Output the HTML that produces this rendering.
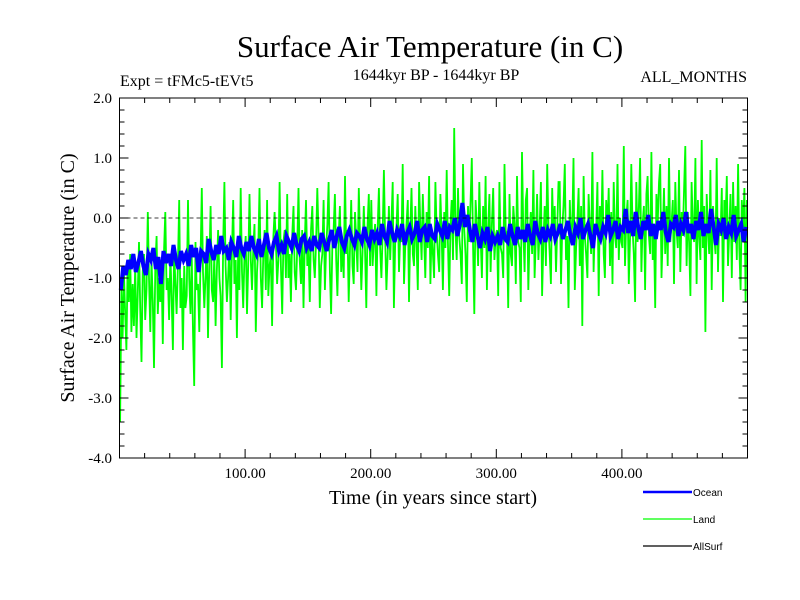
<!DOCTYPE html>
<html><head><meta charset="utf-8"><style>
body{margin:0;background:#fff;}
svg{display:block;font-family:"Liberation Serif",serif;}
</style></head><body>
<svg id="chart" width="800" height="600">
<rect width="800" height="600" fill="#fff"/>
<text x="430" y="57" font-size="31" text-anchor="middle">Surface Air Temperature (in C)</text>
<text x="120" y="86" font-size="16">Expt = tFMc5-tEVt5</text>
<text x="436" y="80" font-size="16" text-anchor="middle">1644kyr BP - 1644kyr BP</text>
<text x="747" y="82" font-size="16" text-anchor="end">ALL_MONTHS</text>
<g id="plot"></g>
<text transform="translate(74,278) rotate(-90)" font-size="20" text-anchor="middle">Surface Air Temperature (in C)</text>
<text x="433" y="504" font-size="20" text-anchor="middle">Time (in years since start)</text>
<g font-family="Liberation Sans, sans-serif" font-size="10">
<line x1="643" y1="492" x2="692" y2="492" stroke="#0000ff" stroke-width="2.5"/>
<text x="693" y="496">Ocean</text>
<line x1="643" y1="519" x2="692" y2="519" stroke="#00ff00" stroke-width="1.2"/>
<text x="693" y="523">Land</text>
<line x1="643" y1="546" x2="692" y2="546" stroke="#000" stroke-width="1.2"/>
<text x="693" y="550">AllSurf</text>
</g>
</svg>
<script>
const landStep = 1;
const oceanStep = 2;
const yTicks = [2.0, 1.0, 0.0, -1.0, -2.0, -3.0, -4.0];
const yTickLabels = ["2.0","1.0","0.0","-1.0","-2.0","-3.0","-4.0"];
const xTicks = [100, 200, 300, 400];
const xTickLabels = ["100.00","200.00","300.00","400.00"];
const land = [
-3.4,-1.2,-2.0,-0.9,-1.6,-2.2,-0.7,-1.4,-0.6,-1.9,-1.1,-1.8,-0.8,-2.0,-1.3,-0.4,-1.5,-2.4,-0.9,-0.6,-1.7,-1.2,0.1,-1.0,-1.9,-0.7,-1.4,-2.5,-0.8,-0.3,-1.6,-1.0,-1.4,-0.9,-2.1,-0.5,0.1,-1.2,-1.0,-1.7,-0.6,-1.3,-2.2,-0.5,-1.1,-1.6,-0.8,0.3,-1.5,-1.0,
-2.2,-0.8,-1.5,-1.3,0.3,-1.0,-1.6,-0.6,-1.9,-2.8,-0.4,-1.2,-1.1,-1.9,-0.7,0.5,-0.9,-1.5,-1.0,-0.3,-2.0,-0.8,0.2,-1.2,-1.4,-0.6,-1.8,-0.9,-0.2,-1.0,-1.3,-2.5,-0.5,0.6,-0.8,-1.4,-1.0,-0.4,-1.7,-0.6,0.3,-1.1,-0.7,-2.0,-0.5,-1.2,0.5,-0.9,-1.5,-0.6,
-0.3,-1.6,-0.8,0.4,-0.7,-1.2,-0.5,-0.1,-1.9,-0.9,-0.5,0.5,-1.0,-1.5,-0.6,-0.2,-1.2,0.3,-1.3,-0.8,-0.6,-1.8,-0.3,0.1,-0.4,-1.1,-0.7,0.6,-0.8,-1.6,-0.4,-0.2,-1.0,0.4,-1.0,-0.6,-1.4,-0.3,0.2,-0.9,-1.2,-0.5,0.5,-0.7,-1.1,-0.2,-1.5,-0.4,0.3,-0.8,
-0.5,-1.4,-0.2,0.2,-0.7,-1.0,-0.4,0.5,-0.3,-1.5,-0.8,-0.6,0.3,-1.2,-0.5,-0.1,0.6,-0.9,-1.6,-0.4,-0.2,0.4,-0.7,-1.3,-0.3,0.2,-0.9,-0.4,-1.0,0.7,-0.6,-0.2,-1.4,-0.5,0.3,-0.8,-1.1,0.1,-0.4,-0.9,0.5,-0.3,-1.2,-0.6,0.2,-0.5,-1.5,-0.1,0.4,-0.8,
0.3,-0.8,-0.4,-0.1,-1.3,-0.2,0.5,-0.5,-1.0,-0.3,0.8,-0.3,-1.2,-0.6,0.2,-0.7,-0.1,0.6,-1.5,-0.4,-0.2,0.4,-0.9,-0.3,-0.4,0.9,-1.1,-0.5,-0.1,0.3,-1.4,-0.2,0.5,-0.6,-0.8,0.2,-0.4,-1.2,0.6,-0.1,-0.7,0.4,-0.3,-1.0,0.1,-0.5,0.7,-1.1,-0.2,-0.6,
-1.0,0.6,-0.2,-0.6,-0.9,0.4,-0.3,-1.2,0.1,-0.5,0.8,-0.4,-1.3,-0.1,0.3,-0.7,1.5,-0.2,-0.7,0.5,-0.3,-0.6,-1.1,0.9,-0.2,-0.6,-1.4,0.2,-0.4,0.3,1.0,-0.5,-1.6,0.3,-0.1,-0.8,0.6,-0.3,-1.0,0.2,-0.5,0.7,-1.2,-0.2,0.4,-0.9,-0.1,0.5,-0.7,-0.3,
-0.2,-1.3,0.6,-0.5,-0.6,-1.0,0.9,-0.2,-0.3,-1.5,0.4,-0.6,-0.8,0.2,-0.1,-1.1,0.7,-0.4,-0.5,-1.4,1.1,-0.2,-0.9,0.3,0.5,-1.2,-0.3,0.1,-0.6,0.8,-1.0,-0.3,0.4,-0.7,-0.2,0.6,-1.3,-0.4,0.2,-0.8,0.9,-0.1,-0.6,-1.1,0.5,-0.3,0.2,-0.9,-0.2,0.6,
0.6,-1.1,-0.2,0.2,0.9,-0.7,-0.3,-1.5,0.3,-0.4,-0.1,1.0,-1.2,-0.5,-0.1,0.5,-0.8,0.2,-1.8,0.7,-0.3,-0.6,-1.0,0.4,-0.2,-0.6,1.1,-0.9,-0.1,-0.2,0.6,-1.3,0.2,-0.4,0.8,-0.6,-1.0,0.3,-0.2,0.5,-0.8,0.1,-1.1,0.6,-0.3,-0.5,0.9,-0.7,0.0,-0.4,
-0.5,1.2,-0.8,0.0,0.3,-1.1,-0.3,0.9,-0.2,-0.6,-1.4,0.6,-0.4,0.2,1.0,-0.9,-0.1,0.2,-1.2,0.4,0.7,-0.3,-0.6,1.1,-0.7,-0.2,-1.5,0.4,-0.1,0.6,0.9,-1.0,-0.3,0.5,-0.6,0.2,-0.8,1.0,-0.4,-0.1,0.3,-1.1,0.6,-0.2,-0.5,0.8,-0.9,0.1,-0.3,0.5,
1.2,-0.8,0.1,-0.4,-1.3,0.6,-0.2,-0.4,1.0,-1.1,0.3,-0.3,-0.7,1.3,-0.5,0.2,-1.9,0.4,-0.2,-0.6,0.8,-1.2,0.2,-0.3,-0.6,1.0,-0.9,0.0,-0.3,0.5,-1.4,0.3,-0.1,0.7,-0.8,-0.2,0.4,-1.0,0.6,-0.4,0.2,-0.7,0.9,-0.5,-1.2,0.3,-0.2,0.5,-1.4,0.3];
const ocean = [-1.2,-0.8,-0.95,-0.7,-0.85,-0.6,-0.9,-0.75,-0.55,-0.8,-0.95,-0.6,-0.7,-0.5,-0.85,-0.65,-1.1,-0.55,-0.75,-0.6,-0.8,-0.45,-0.7,-0.85,-0.55,
-0.7,-0.6,-0.8,-0.45,-0.65,-0.5,-0.9,-0.55,-0.6,-0.75,-0.35,-0.55,-0.7,-0.45,-0.6,-0.3,-0.55,-0.5,-0.7,-0.4,-0.5,-0.65,-0.3,-0.5,-0.6,
-0.4,-0.55,-0.3,-0.5,-0.6,-0.35,-0.65,-0.45,-0.25,-0.5,-0.6,-0.4,-0.3,-0.55,-0.45,-0.6,-0.3,-0.4,-0.5,-0.25,-0.45,-0.55,-0.35,-0.3,-0.5,
-0.4,-0.55,-0.3,-0.45,-0.5,-0.25,-0.4,-0.55,-0.35,-0.2,-0.5,-0.3,-0.15,-0.4,-0.5,-0.3,-0.2,-0.35,-0.45,-0.25,-0.3,-0.4,-0.15,-0.35,-0.45,
-0.2,-0.35,-0.25,-0.45,-0.1,-0.3,-0.4,-0.05,-0.25,-0.4,-0.2,-0.3,-0.1,-0.45,-0.25,-0.15,-0.35,-0.25,-0.05,-0.4,-0.2,-0.15,-0.4,-0.1,-0.3,
-0.35,-0.1,-0.2,-0.3,-0.05,-0.35,-0.15,-0.2,0.0,-0.3,-0.1,0.25,-0.15,0.05,-0.2,-0.4,-0.1,-0.3,-0.5,-0.25,-0.35,-0.15,-0.55,-0.3,-0.4,
-0.3,-0.45,-0.15,-0.35,-0.4,-0.1,-0.3,-0.45,-0.15,-0.35,-0.2,-0.4,-0.1,-0.3,-0.45,-0.05,-0.25,-0.35,-0.15,-0.4,-0.2,-0.3,-0.1,-0.35,-0.25,
-0.1,-0.35,-0.2,-0.05,-0.3,-0.45,-0.15,-0.25,0.0,-0.35,-0.2,-0.1,-0.3,-0.5,-0.1,-0.25,-0.35,-0.15,-0.25,0.05,-0.3,-0.2,-0.05,-0.35,-0.15,
-0.2,0.15,-0.25,-0.05,-0.3,0.1,-0.15,-0.35,-0.05,-0.2,0.05,-0.3,-0.1,-0.35,-0.05,-0.2,0.1,-0.25,-0.4,-0.1,-0.15,0.05,-0.3,-0.1,-0.2,
0.1,-0.25,-0.1,-0.35,-0.05,-0.2,0.1,-0.3,-0.1,-0.25,0.15,-0.15,-0.45,-0.1,-0.2,0.0,-0.35,-0.15,-0.25,0.05,-0.3,-0.2,-0.1,-0.4,-0.15];

const NS = "http://www.w3.org/2000/svg";
const L = 119.5, R = 747.5, T = 98, B = 458;
const xMin = 0, xMax = 500, yMin = -4, yMax = 2;
function xs(v){ return L + (v - xMin) / (xMax - xMin) * (R - L); }
function ys(v){ return B - (v - yMin) / (yMax - yMin) * (B - T); }
const g = document.getElementById('plot');
function mk(tag, attrs){ const e = document.createElementNS(NS, tag); for (const k in attrs) e.setAttribute(k, attrs[k]); g.appendChild(e); return e; }

function seriesPath(vals, step){
  return vals.map((v,i)=> (i?'L':'M') + xs(i*step + step/2).toFixed(1) + ',' + ys(Math.max(yMin, Math.min(yMax, v))).toFixed(1)).join('');
}
const landLine = mk('path', {d: seriesPath(land, landStep), fill:'none', stroke:'#00ff00', 'stroke-width':1.8, 'stroke-linejoin':'miter'});


const oceanLine = mk('path', {d: seriesPath(ocean, oceanStep), fill:'none', stroke:'#0000ff', 'stroke-width':4});



const zero = mk('line', {x1:L, x2:R, y1:ys(0), y2:ys(0), stroke:'#000', 'stroke-width':0.8, 'stroke-dasharray':'4,3'});



const frame = mk('rect', {x:L, y:T, width:R-L, height:B-T, fill:'none', stroke:'#000', 'stroke-width':1});



for (let v = yMin; v <= yMax + 1e-9; v += 0.2) {
  const major = Math.abs(v - Math.round(v)) < 1e-6;
  const len = major ? 9 : 5;
  const y = ys(v);
  const a = mk('line', {x1:L, x2:L+len, y1:y, y2:y, stroke:'#000', 'stroke-width':1});
  
  
  const b = mk('line', {x1:R, x2:R-len, y1:y, y2:y, stroke:'#000', 'stroke-width':1});
  
  
}
for (let v = 20; v < xMax; v += 20) {
  const major = v % 100 === 0;
  const len = major ? 9 : 5;
  const x = xs(v);
  const a = mk('line', {x1:x, x2:x, y1:B, y2:B-len, stroke:'#000', 'stroke-width':1});
  
  
  const b = mk('line', {x1:x, x2:x, y1:T, y2:T+len, stroke:'#000', 'stroke-width':1});
  
  
}
yTicks.forEach((v,i)=>{
  const t = mk('text', {x:112, y:ys(v)+5, 'font-size':15, 'text-anchor':'end'});
  t.textContent = yTickLabels[i];
  
  
});
xTicks.forEach((v,i)=>{
  const t = mk('text', {x:xs(v), y:478, 'font-size':15, 'text-anchor':'middle'});
  t.textContent = xTickLabels[i];
  
  
});
</script>
</body></html>
